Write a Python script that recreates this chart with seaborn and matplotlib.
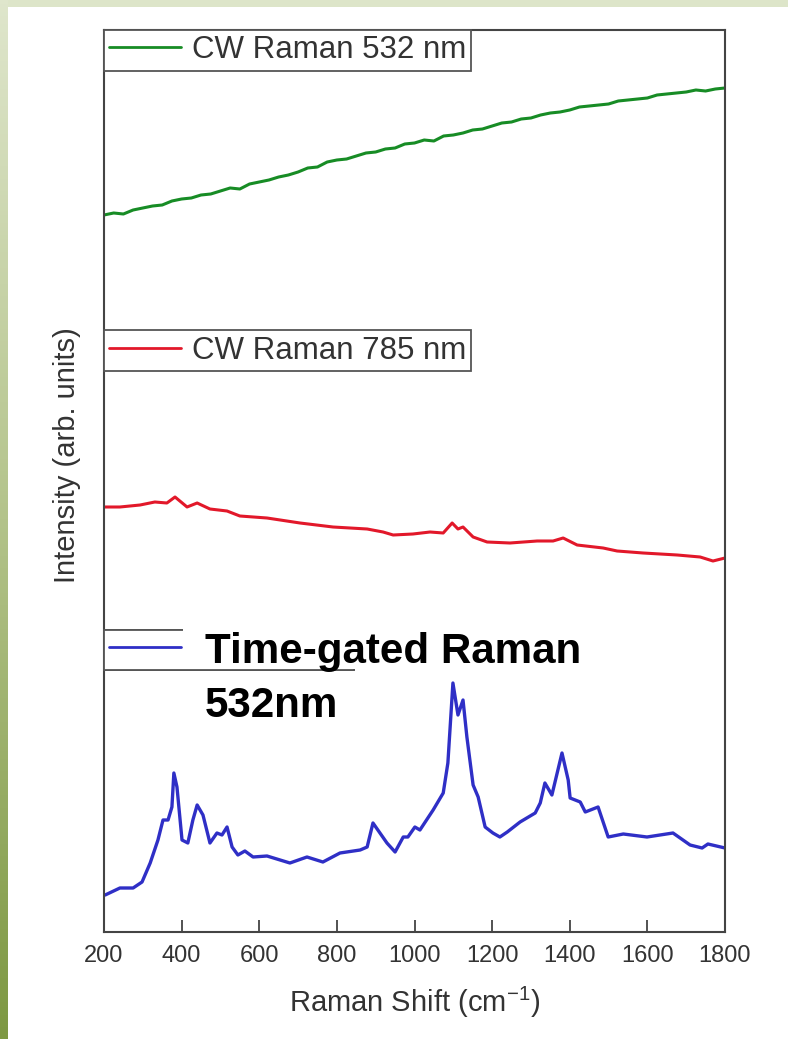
import numpy as np
import pandas as pd
import matplotlib
matplotlib.use("Agg")
import matplotlib.pyplot as plt
import seaborn as sns
from matplotlib.lines import Line2D
from matplotlib.patches import Rectangle
from matplotlib.colors import LinearSegmentedColormap

# --- data (intensity in arbitrary units) ---
green_shift = [200, 225, 250, 275, 300, 325, 350, 375, 400, 425, 450, 475, 500, 525,
               550, 575, 600, 625, 650, 675, 700, 725, 750, 775, 800, 825, 850, 875,
               900, 925, 950, 975, 1000, 1025, 1050, 1075, 1100, 1125, 1150, 1175,
               1200, 1225, 1250, 1275, 1300, 1325, 1350, 1375, 1400, 1425, 1450, 1475,
               1500, 1525, 1550, 1575, 1600, 1625, 1650, 1675, 1700, 1725, 1750, 1775,
               1800]
green_int = [717, 719, 718, 722, 724, 726, 727, 731, 733, 734, 737, 738, 741, 744,
             743, 748, 750, 752, 755, 757, 760, 764, 765, 770, 772, 773, 776, 779,
             780, 783, 784, 788, 789, 792, 791, 796, 797, 799, 802, 803,
             806, 809, 810, 813, 814, 817, 819, 820, 822, 825, 826, 827,
             828, 831, 832, 833, 834, 837, 838, 839, 840, 842, 841, 843,
             844]

red_shift = [203, 241, 293, 331, 362, 383, 414, 440, 473, 517, 550, 620, 705, 790,
             878, 919, 945, 996, 1040, 1074, 1097, 1112, 1125, 1151, 1187, 1246, 1316,
             1357, 1383, 1419, 1486, 1522, 1589, 1677, 1736, 1769, 1800]
red_int = [425, 425, 427, 430, 429, 435, 425, 429, 423, 421, 416, 414, 409, 405,
           403, 400, 397, 398, 400, 399, 409, 403, 405, 395, 390, 389, 391,
           391, 394, 387, 384, 381, 379, 377, 375, 371, 374]

blue_shift = [203, 241, 275, 298, 319, 339, 352, 365, 375, 380, 388, 401, 416, 429,
              440, 455, 473, 491, 504, 517, 530, 545, 563, 584, 620, 679, 723, 764,
              808, 860, 878, 893, 929, 950, 971, 983, 1001, 1014, 1048, 1074, 1086,
              1099, 1112, 1125, 1135, 1151, 1164, 1182, 1202, 1220, 1239, 1272, 1311,
              1324, 1336, 1354, 1380, 1396, 1401, 1427, 1440, 1473, 1499, 1538, 1599,
              1666, 1710, 1741, 1756, 1800]
blue_int = [37, 44, 44, 50, 69, 92, 112, 112, 125, 159, 145, 92, 89, 112,
            127, 117, 89, 99, 97, 105, 85, 77, 81, 75, 76, 69, 75, 70,
            79, 82, 85, 109, 89, 80, 95, 95, 105, 102, 122, 139, 169,
            249, 217, 232, 195, 147, 135, 105, 99, 95, 100, 110, 119,
            129, 149, 137, 179, 152, 134, 130, 120, 125, 95, 98, 95,
            99, 87, 84, 88, 84]

labels = ["CW Raman 532 nm", "CW Raman 785 nm", "Time-gated"]
colors = ["#178c25", "#e2182a", "#2f2fc6"]
xticks = [200, 400, 600, 800, 1000, 1200, 1400, 1600, 1800]

sns.set_theme(style="white")
plt.rcParams["font.family"] = ["Liberation Sans", "DejaVu Sans"]
plt.rcParams["mathtext.fontset"] = "custom"
plt.rcParams["mathtext.rm"] = "Liberation Sans"
plt.rcParams["mathtext.default"] = "regular"

W, H = 788, 1039
fig = plt.figure(figsize=(W / 100, H / 100), dpi=100)
fig.patch.set_facecolor("#dde5c9")

# slide background: white panel and olive strip on the left
fig.patches.append(Rectangle((8 / W, 0), 1 - 8 / W, (H - 7) / H, transform=fig.transFigure,
                             facecolor="white", edgecolor="none", zorder=-5))
strip = fig.add_axes([0, 0, 8 / W, 1], zorder=-4)
cmap = LinearSegmentedColormap.from_list("slide", ["#dfe6cc", "#b3c38a", "#7d9842"])
strip.imshow(np.linspace(0, 1, 256).reshape(-1, 1), aspect="auto", cmap=cmap)
strip.axis("off")

ax = fig.add_axes([104 / W, (H - 932) / H, (725 - 104) / W, (932 - 30) / H])
ax.set_facecolor("white")

series = [
    pd.DataFrame({"shift": green_shift, "intensity": green_int}),
    pd.DataFrame({"shift": red_shift, "intensity": red_int}),
    pd.DataFrame({"shift": blue_shift, "intensity": blue_int}),
]
widths = [2.2, 2.2, 2.4]
for df, c, lw in zip(series, colors, widths):
    sns.lineplot(data=df, x="shift", y="intensity", ax=ax, color=c, lw=lw,
                 estimator=None, sort=False)

ax.set_xlim(200, 1800)
ax.set_ylim(0, 902)
ax.set_xticks(xticks)
ax.set_yticks([])
ax.tick_params(axis="x", direction="in", length=9, width=1.3, color="#444",
               labelsize=17, labelcolor="#333", pad=9, bottom=True)
for s in ax.spines.values():
    s.set_color("#444")
    s.set_linewidth(1.5)

ax.set_xlabel(r"Raman Shift (cm$^{-1}$)", fontsize=21, color="#333", labelpad=13)
ax.set_ylabel("Intensity (arb. units)", fontsize=21, color="#333")
ax.yaxis.set_label_coords(-0.037, 0.529)

# one framed legend per trace
tops = [1.0, 0.667, 0.335]
for i, (lab, c, top) in enumerate(zip(labels, colors, tops)):
    h = Line2D([], [], color=c, lw=2)
    leg = ax.legend([h], [lab], loc="upper left", bbox_to_anchor=(0, top),
                    borderaxespad=0, borderpad=0.17, handlelength=2.3,
                    handletextpad=0.33, fontsize=22.5, fancybox=False,
                    framealpha=1, edgecolor="#555", labelcolor="#333")
    leg.get_frame().set_linewidth(1.3)
    if i == 2:
        # label sits under the white caption box in the reference
        leg.get_texts()[0].set_visible(False)
    ax.add_artist(leg)

# overlaid bold caption with white background
fig.patches.append(Rectangle((183 / W, (H - 669) / H), (600 - 183) / W, (669 - 618) / H,
                             transform=fig.transFigure, facecolor="white",
                             edgecolor="none", zorder=5))
fig.text(205 / W, (H - 663) / H, "Time-gated Raman", fontsize=30.3, fontweight="bold",
         color="black", va="baseline", ha="left", zorder=6)
fig.text(205 / W, (H - 717) / H, "532nm", fontsize=30.3, fontweight="bold",
         color="black", va="baseline", ha="left", zorder=6)

fig.savefig("out.png", dpi=100, facecolor=fig.get_facecolor())
